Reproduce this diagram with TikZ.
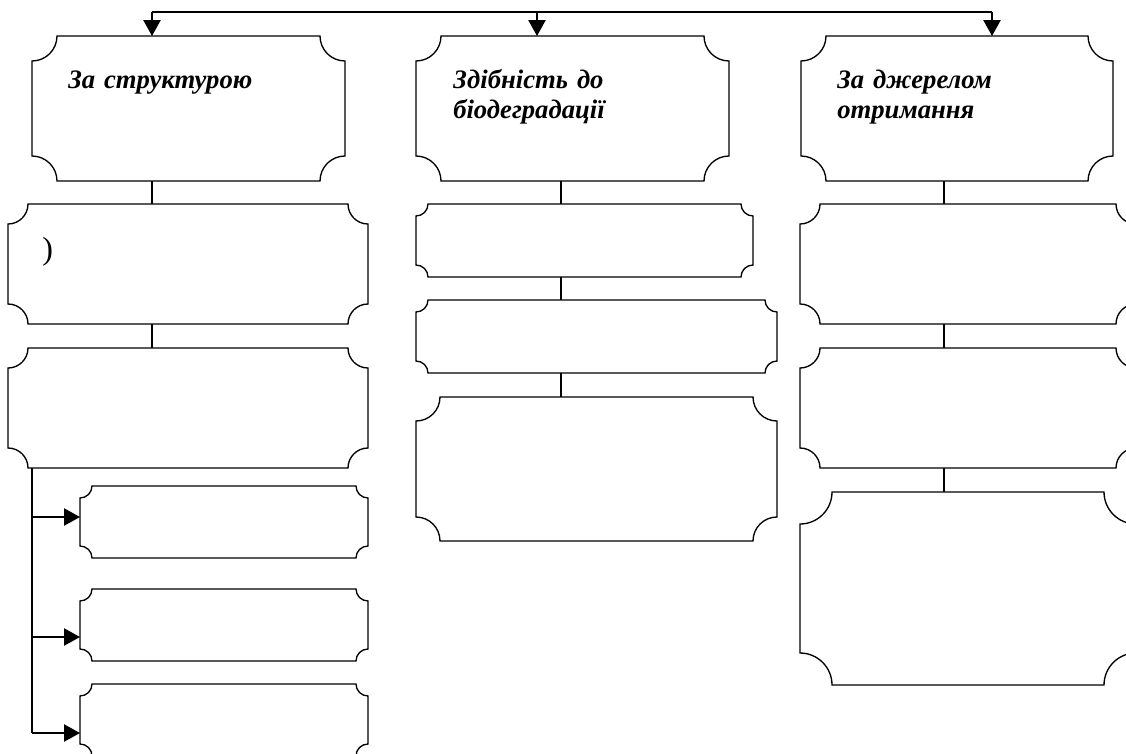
\documentclass[tikz,border=0pt]{standalone}
\usepackage{fontspec}
\setmainfont{Liberation Serif}
\usetikzlibrary{arrows.meta,fit}
\tikzset{
  box/.style={inner sep=0pt, outer sep=0pt, draw=none},
  edge/.style={line width=1pt, black},
  arr/.style={edge, -{Triangle[length=12pt,width=13pt]}},
  lbl/.style={font=\bfseries\itshape\fontsize{20}{22.5}\selectfont, inner sep=0pt, anchor=base west, align=left, text width=8cm},
}
\newcommand\plaque[2]{%
 \draw[edge] ([xshift=#2]#1.north west) -- ([xshift=-#2]#1.north east)
   arc[start angle=180,end angle=270,radius=#2]
   -- ([yshift=#2]#1.south east)
   arc[start angle=90,end angle=180,radius=#2]
   -- ([xshift=#2]#1.south west)
   arc[start angle=0,end angle=90,radius=#2]
   -- ([yshift=-#2]#1.north west)
   arc[start angle=-90,end angle=0,radius=#2]
   -- cycle;}
\begin{document}
\begin{tikzpicture}[x=0.75pt,y=-0.75pt]
\useasboundingbox (0,0) rectangle (1126,753);
\clip (0,0) rectangle (1126,753);
% boxes
\node[box, fit={(32,36) (345,181)}] (T1) {};
\node[box, fit={(416,36) (729,181)}] (T2) {};
\node[box, fit={(801,36) (1113,181)}] (T3) {};
\node[box, fit={(8,204) (368,324)}] (A1) {};
\node[box, fit={(8,348) (368,468)}] (A2) {};
\node[box, fit={(80,486) (368,558)}] (B1) {};
\node[box, fit={(80,589) (368,661)}] (B2) {};
\node[box, fit={(80,684) (368,756)}] (B3) {};
\node[box, fit={(416,204) (753,277)}] (M1) {};
\node[box, fit={(416,300) (777,373)}] (M2) {};
\node[box, fit={(416,397) (777,541)}] (M3) {};
\node[box, fit={(800,204) (1136,324)}] (R1) {};
\node[box, fit={(800,348) (1136,468)}] (R2) {};
\node[box, fit={(800,492) (1136,685)}] (R3) {};
\foreach \n/\r in {T1/18.75pt,T2/18.75pt,T3/18.75pt,A1/15pt,A2/15pt,B1/9pt,B2/9pt,B3/9pt,M1/9pt,M2/9pt,M3/18pt,R1/15pt,R2/15pt,R3/24pt}
  {\plaque{\n}{\r}}
% labels
\node[lbl] (L1) at (68,88) {За структурою};
\node[lbl] (L2) at (453,88) {Здібність до\\біодеградації};
\node[lbl] (L3) at (837,88) {За джерелом\\отримання};
\node[font=\fontsize{24}{28}\selectfont, inner sep=0pt, anchor=base west] (P) at (42,259) {)};
% top connectors
\coordinate (x1) at (152,12);
\coordinate (x2) at (537,12);
\coordinate (x3) at (992,12);
\draw[edge] (x1) -- (x3);
\draw[arr] (x1) -- (x1 |- T1.north);
\draw[arr] (x2) -- (x2 |- T2.north);
\draw[arr] (x3) -- (x3 |- T3.north);
% column connectors
\coordinate (c1) at (152,0);
\coordinate (c2) at (561,0);
\coordinate (c3) at (944,0);
\draw[edge] (c1 |- T1.south) -- (c1 |- A1.north);
\draw[edge] (c1 |- A1.south) -- (c1 |- A2.north);
\draw[edge] (c2 |- T2.south) -- (c2 |- M1.north);
\draw[edge] (c2 |- M1.south) -- (c2 |- M2.north);
\draw[edge] (c2 |- M2.south) -- (c2 |- M3.north);
\draw[edge] (c3 |- T3.south) -- (c3 |- R1.north);
\draw[edge] (c3 |- R1.south) -- (c3 |- R2.north);
\draw[edge] (c3 |- R2.south) -- (c3 |- R3.north);
% left branch
\coordinate (k1) at (32,517);
\coordinate (k2) at (32,637);
\coordinate (k3) at (32,733);
\draw[edge] (k1 |- A2.south) -- (k3);
\draw[arr] (k1) -- (k1 -| B1.west);
\draw[arr] (k2) -- (k2 -| B2.west);
\draw[arr] (k3) -- (k3 -| B3.west);
\end{tikzpicture}
\end{document}
